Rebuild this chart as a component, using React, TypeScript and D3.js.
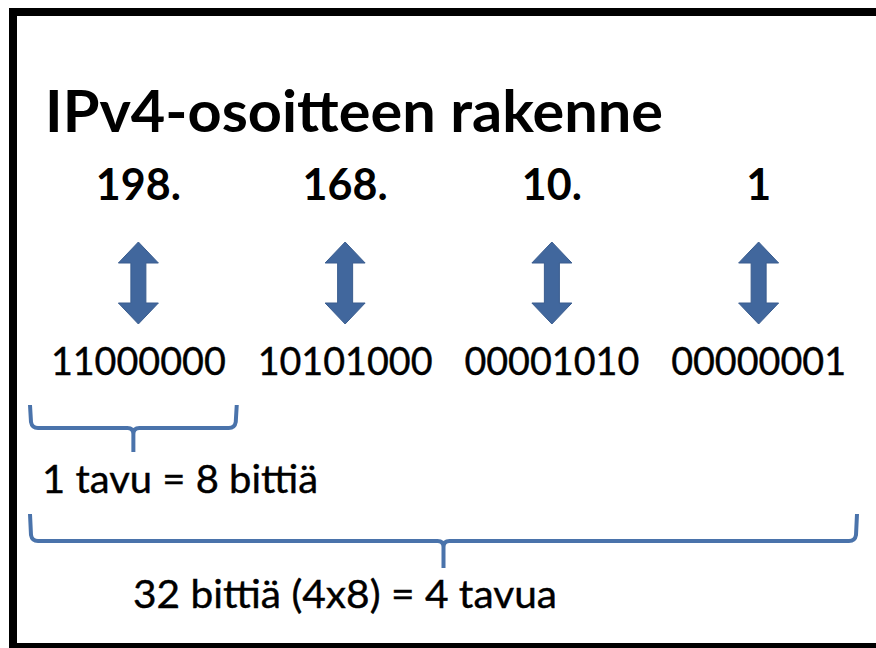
import React, { useEffect, useRef } from 'react';
import * as d3 from 'd3';

const titleText = 'IPv4-osoitteen rakenne';
const octetLabels = ['198.', '168.', '10.', '1'];
const bitLabels = ['11000000', '10101000', '00001010', '00000001'];
const byteLabel = '1 tavu = 8 bittiä';
const totalLabel = '32 bittiä (4x8) = 4 tavua';

const WIDTH = 876;
const HEIGHT = 648;
const BLUE = '#41679d';
const BRACE = '#4a73ab';
const FONT = 'Lato, "Open Sans", sans-serif';

const App: React.FC = () => {
  const svgRef = useRef<SVGSVGElement>(null);

  useEffect(() => {
    if (!svgRef.current) return;
    const svg = d3.select(svgRef.current);
    svg.selectAll('*').remove();

    svg.append('rect')
      .attr('width', WIDTH)
      .attr('height', HEIGHT)
      .attr('fill', '#fff');

    // outer frame (right side runs off the picture)
    svg.append('rect')
      .attr('x', 13)
      .attr('y', 12)
      .attr('width', 900)
      .attr('height', 635)
      .attr('fill', 'none')
      .attr('stroke', '#000')
      .attr('stroke-width', 8);

    // one band per byte
    const x = d3.scaleBand<number>()
      .domain(d3.range(octetLabels.length))
      .range([30, 857]);
    const cx = (i: number) => (x(i) || 0) + x.bandwidth() / 2 + 5;

    svg.append('text')
      .attr('x', 45)
      .attr('y', 132)
      .attr('font-family', FONT)
      .attr('font-weight', 700)
      .attr('font-size', 57)
      .attr('textLength', 618)
      .attr('lengthAdjust', 'spacingAndGlyphs')
      .text(titleText);

    svg.selectAll('.octet')
      .data(octetLabels)
      .enter().append('text')
      .attr('class', 'octet')
      .attr('x', (d, i) => cx(i))
      .attr('y', 200)
      .attr('text-anchor', 'middle')
      .attr('font-family', FONT)
      .attr('font-weight', 700)
      .attr('font-size', 43)
      .text(d => d);

    // double-headed arrows
    const arrow = (c: number) => {
      const y0 = 242, y1 = 324, hw = 20, hh = 21, sw = 7.5;
      const pts: [number, number][] = [
        [c, y0], [c + hw, y0 + hh], [c + sw, y0 + hh], [c + sw, y1 - hh],
        [c + hw, y1 - hh], [c, y1], [c - hw, y1 - hh], [c - sw, y1 - hh],
        [c - sw, y0 + hh], [c - hw, y0 + hh],
      ];
      return d3.line()(pts) + 'Z';
    };

    svg.selectAll('.arrow')
      .data(octetLabels)
      .enter().append('path')
      .attr('class', 'arrow')
      .attr('d', (d, i) => arrow(cx(i)))
      .attr('fill', BLUE)
      .attr('stroke', '#3a5d8f')
      .attr('stroke-width', 1);

    svg.selectAll('.bits')
      .data(bitLabels)
      .enter().append('text')
      .attr('class', 'bits')
      .attr('x', (d, i) => cx(i))
      .attr('y', 375)
      .attr('text-anchor', 'middle')
      .attr('font-family', FONT)
      .attr('font-size', 38)
      .attr('stroke', '#000')
      .attr('stroke-width', 0.4)
      .attr('textLength', 175)
      .attr('lengthAdjust', 'spacingAndGlyphs')
      .text(d => d);

    // curly brace lying on its back
    const brace = (x0: number, x1: number, yTop: number, yLine: number, yTip: number) => {
      const xm = (x0 + x1) / 2;
      const r = 6;
      const p = d3.path();
      p.moveTo(x0, yTop);
      p.lineTo(x0 + 1, yLine - r);
      p.quadraticCurveTo(x0 + 2, yLine, x0 + r + 2, yLine);
      p.lineTo(xm - r, yLine);
      p.quadraticCurveTo(xm, yLine, xm, yLine + r);
      p.lineTo(xm, yTip);
      p.moveTo(x1, yTop);
      p.lineTo(x1 - 1, yLine - r);
      p.quadraticCurveTo(x1 - 2, yLine, x1 - r - 2, yLine);
      p.lineTo(xm + r, yLine);
      p.quadraticCurveTo(xm, yLine, xm, yLine + r);
      return p.toString();
    };

    svg.append('path')
      .attr('d', brace(x(0) || 0, (x(0) || 0) + x.bandwidth(), 405, 428, 452))
      .attr('fill', 'none')
      .attr('stroke', BRACE)
      .attr('stroke-width', 4);

    svg.append('path')
      .attr('d', brace(x(0) || 0, (x(octetLabels.length - 1) || 0) + x.bandwidth(), 514, 541, 568))
      .attr('fill', 'none')
      .attr('stroke', BRACE)
      .attr('stroke-width', 4);

    svg.append('text')
      .attr('x', 42)
      .attr('y', 493)
      .attr('font-family', FONT)
      .attr('font-size', 39)
      .attr('stroke', '#000')
      .attr('stroke-width', 0.4)
      .attr('textLength', 276)
      .attr('lengthAdjust', 'spacingAndGlyphs')
      .text(byteLabel);

    svg.append('text')
      .attr('x', 133)
      .attr('y', 608)
      .attr('font-family', FONT)
      .attr('font-size', 39)
      .attr('stroke', '#000')
      .attr('stroke-width', 0.4)
      .attr('textLength', 424)
      .attr('lengthAdjust', 'spacingAndGlyphs')
      .text(totalLabel);
  }, []);

  return (
    <svg
      ref={svgRef}
      width={WIDTH}
      height={HEIGHT}
      style={{ position: 'absolute', left: 0, top: 0 }}
    />
  );
};

export default App;
